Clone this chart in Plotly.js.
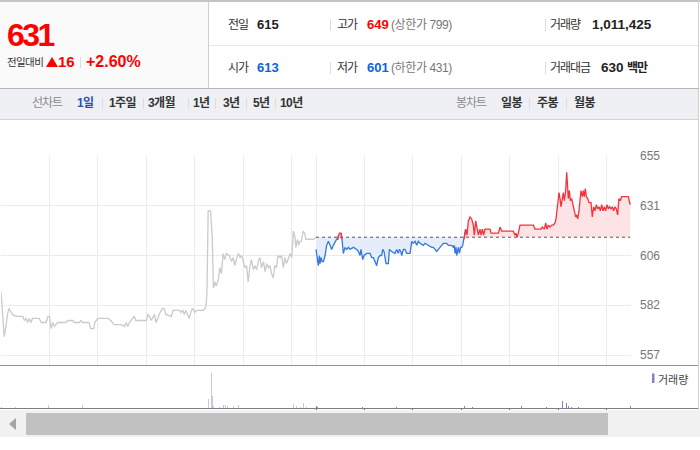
<!DOCTYPE html>
<html><head><meta charset="utf-8">
<script src="https://cdn.plot.ly/plotly-3.0.1.min.js"></script>
<style>
body{margin:0;width:700px;height:450px;overflow:hidden;background:#fff;font-family:"Liberation Sans","Noto Sans CJK KR",Arial,sans-serif;position:relative;}
.a{position:absolute;white-space:nowrap;line-height:20px;height:20px;}
.k{letter-spacing:-1px;}
.sep{position:absolute;width:1px;background:#dcdcdc;}
.b{font-weight:bold;}
.t{font-size:12px;color:#333;font-weight:bold;top:93px;letter-spacing:-0.6px;}
#chart{position:absolute;left:0;top:120px;width:700px;height:290px;}
</style></head><body>
<!-- header -->
<div style="position:absolute;left:0;top:0;width:700px;height:2px;background:#c4c4c4"></div>
<div style="position:absolute;left:0;top:2px;width:208px;height:86px;background:#fafafa"></div>
<div style="position:absolute;left:208px;top:2px;width:1px;height:86px;background:#d0d0d0"></div>
<div style="position:absolute;left:698px;top:0;width:1px;height:410px;background:#d0d0d0"></div>
<div style="position:absolute;left:209px;top:45px;width:489px;height:1px;background:#e8e8e8"></div>
<div style="position:absolute;left:0;top:88px;width:699px;height:1px;background:#b8b8b8"></div>

<div class="a b" style="left:7px;top:19px;height:32px;line-height:32px;font-size:32px;color:#f00;letter-spacing:-2.5px">631</div>
<div class="a" style="left:7px;top:52px;font-size:10.5px;color:#333;letter-spacing:-0.6px">전일대비</div>
<div style="position:absolute;left:46px;top:57px;width:0;height:0;border-left:6px solid transparent;border-right:6px solid transparent;border-bottom:10px solid #f00"></div>
<div class="a b" style="left:58px;top:52px;font-size:15px;color:#f00">16</div>
<div class="sep" style="left:80px;top:57px;height:11px"></div>
<div class="a b" style="left:86px;top:52px;font-size:16px;color:#f00">+2.60%</div>

<div class="a k" style="left:228px;top:15px;font-size:12px;color:#333">전일</div>
<div class="a b" style="left:257px;top:15px;font-size:13px;color:#222">615</div>
<div class="sep" style="left:330px;top:19px;height:12px"></div>
<div class="a k" style="left:337px;top:15px;font-size:12px;color:#333">고가</div>
<div class="a b" style="left:367px;top:15px;font-size:13px;color:#f00">649</div>
<div class="a" style="left:391px;top:15px;font-size:12px;color:#777;letter-spacing:-0.4px">(상한가 799)</div>
<div class="sep" style="left:545px;top:19px;height:12px"></div>
<div class="a k" style="left:550px;top:15px;font-size:12px;color:#333">거래량</div>
<div class="a b" style="left:592px;top:15px;font-size:13.5px;color:#222">1,011,425</div>

<div class="a k" style="left:228px;top:58px;font-size:12px;color:#333">시가</div>
<div class="a b" style="left:257px;top:58px;font-size:13px;color:#0f64d7">613</div>
<div class="sep" style="left:330px;top:62px;height:12px"></div>
<div class="a k" style="left:337px;top:58px;font-size:12px;color:#333">저가</div>
<div class="a b" style="left:367px;top:58px;font-size:13px;color:#0f64d7">601</div>
<div class="a" style="left:391px;top:58px;font-size:12px;color:#777;letter-spacing:-0.4px">(하한가 431)</div>
<div class="sep" style="left:545px;top:62px;height:12px"></div>
<div class="a k" style="left:550px;top:58px;font-size:12px;color:#333">거래대금</div>
<div class="a b" style="left:601px;top:58px;font-size:13.5px;color:#222">630</div>
<div class="a b k" style="left:627px;top:58px;font-size:12px;color:#222">백만</div>

<!-- tab bar -->
<div style="position:absolute;left:0;top:89px;width:698px;height:30px;background:#eff0f4;border-bottom:1px solid #d2d2d2"></div>
<div class="a" style="left:32px;top:93px;font-size:12px;color:#8c8c8c;letter-spacing:-1px">선차트</div>
<div class="a t" style="left:77px;color:#2a51b5">1일</div>
<div class="sep" style="left:102px;top:98px;height:11px"></div>
<div class="a t" style="left:109px">1주일</div>
<div class="sep" style="left:143px;top:98px;height:11px"></div>
<div class="a t" style="left:148px">3개월</div>
<div class="sep" style="left:188px;top:98px;height:11px"></div>
<div class="a t" style="left:193px">1년</div>
<div class="sep" style="left:215px;top:98px;height:11px"></div>
<div class="a t" style="left:223px">3년</div>
<div class="sep" style="left:246px;top:98px;height:11px"></div>
<div class="a t" style="left:253px">5년</div>
<div class="sep" style="left:275px;top:98px;height:11px"></div>
<div class="a t" style="left:280px">10년</div>
<div class="a" style="left:456px;top:93px;font-size:12px;color:#8c8c8c;letter-spacing:-1px">봉차트</div>
<div class="a t" style="left:501px">일봉</div>
<div class="sep" style="left:529px;top:98px;height:11px"></div>
<div class="a t" style="left:537px">주봉</div>
<div class="sep" style="left:566px;top:98px;height:11px"></div>
<div class="a t" style="left:574px">월봉</div>

<div id="chart"></div>

<!-- scrollbar -->
<div style="position:absolute;left:0;top:410px;width:700px;height:27px;background:#f1f1f1"></div>
<div style="position:absolute;left:9px;top:418px;width:0;height:0;border-top:6px solid transparent;border-bottom:6px solid transparent;border-right:7px solid #a4a4a4"></div>
<div style="position:absolute;left:26px;top:413px;width:582px;height:22px;background:#c1c1c1"></div>

<script>
// ---------- data ----------
const prevClose = 615;
const sessionMinutes = 390; // 09:00 - 15:30

// previous trading day (minutes after 09:00)
const prevTime = [0,4,6,8,10,14,19,27,29,31,33,35,37,39,41,47,50,56,58,60,62,64,66,68,70,80,83,89,91,97,99,101,109,111,115,116,120,132,136,140,149,153,155,157,159,163,165,167,180,182,184,186,190,192,194,197,200,202,204,211,213,221,223,225,227,229,231,233,235,237,240,242,250,253,254,255,256.5,259.5,261.5,263,265,266.5,269,271,273,275,277,279,282.5,285.5,287.5,289.5,292,294,296,298,300,302,304,306,308,310,312.5,314.5,316.5,318.5,320.5,322.5,325,327,329,331,333,335,337,339,341,343,345.5,347.5,349.5,351.5,353.5,355.5,358,360,362,364,365,367,368.5,370,372,374,376,377.5,387,390];
const prevPrice = [588,566,571,577,580,577,576,576,574,575,573,575,573,575,575,575,573,573,576,576,570,573,571,572,573,573,574,574,573,573,574,573,573,570,570,573,575,575,574,572,572,571,573,571,573,575,576,574,574,577,576,574,577,573,575,578,580,580,577,576,579,579,578,579,577,579,577,575,578,580,578,579,579,580,582,588,628,628,615,590,593,591,594,600,597,607,604,607,606,603,605,601,605,607,605,606,603,600,601,593,600,604,599,601,599,603,605,600,603,598,602,600,601,597,595,601,600,606,605,606,600,605,602,604,607,605,618,615,610,614,611,613,613,618,617,614,614,615];

// today (minutes after 09:00)
const todayTime = [0,1.7,2.9,4.2,5,6.2,7.5,9.1,11.2,13.2,15.3,17.4,19.4,21.5,23.6,25.6,26.9,27.7,28.9,31,32.2,33.9,35.9,38,40.1,42.1,46.3,50.4,52.4,54.5,55.7,57.8,59.5,62.8,66.9,69,71,73.1,75.1,77.2,79.3,81.3,82.6,84.2,86.7,89.6,90.8,93.7,97.8,99.9,102,103.2,104.9,106.1,108.2,110.2,112.3,116.4,118.5,120.5,122.6,124.7,126.7,128.8,132.9,135,139.1,143.2,145.3,147.4,149.4,151.5,153.5,155.6,157.7,161.8,163.9,168,170,171.3,172.1,173.4,174.2,176.3,177.5,179.1,180.4,181.6,183.3,185.3,187,188.6,190.7,192.7,194.8,196,197.7,198.9,201,203,204.3,206,207.6,209.2,215.4,216.7,225.8,227.8,229.9,231.9,244.3,246.4,247.6,248.9,250.5,252.6,254.6,269.1,271.1,273.2,275.3,278.6,280.2,282.7,284.4,286,287.7,289.7,291.8,293.8,295.9,297.1,299.2,300.9,302.1,303.3,305,306.2,307.5,309.1,310.4,311.6,312.4,313.7,314.9,316.5,318.6,319.8,321.5,322.7,324,325.6,327.3,328.1,329.7,331,332.2,333.5,334.7,336.4,338,340.5,342.1,343.8,345.4,347.1,348.7,350.4,352,353.7,355.3,357,358.6,360.3,361.9,363.6,365.2,366.9,368.5,370.2,371.8,373.5,375.1,376.8,378.5,386.7,389];
const todayPrice = [609,605,601,606,602,605,603,603,606,611,613,611,609,611,613,614,614,616,617,617,614,607,610,609,610,609,610,609,608,606,609,604,606,607,607,605,605,603,601,605,606,606,609,608,602,602,609,608,607,609,607,609,608,606,609,609,607,607,613,612,613,611,613,612,611,612,611,610,610,609,608,609,610,611,612,612,611,611,610,611,607,610,606,610,607,610,610,611,614,619,616,623,625,624,621,616,623,620,616,619,616,619,616,619,619,617,617,620,618,618,618,616,617,615,617,621,621,621,619,619,619,619,620,619,622,619,621,620,621,621,622,624,631,637,634,630,634,637,633,638,647,639,634,638,633,634,630,627,625,626,624,628,633,638,635,638,635,639,635,634,632,632,625,630,628,631,629,630,628,631,628,630,628,631,629,630,629,630,628,630,629,626,634,633,635,635,631];

// volume (thousand shares)
const prevVolTime = [1,18,59,101,234,256.6,258.7,260.4,261.6,262.8,265,267.4,270,272.4,276,278,280.7,283.5,287.6,291,293.8,300.8,303.3,307,310.7,324.4,329.3,339.2,350.4,361.9,364,366.1,369,371,374.3,376.4,378.5,388.7];
const prevVol = [20,10,40,50,15,130,215,530,175,30,25,25,20,25,50,40,25,15,30,40,50,55,15,15,15,10,10,10,15,55,50,30,40,20,70,30,20,50];
const todayVolTime = [0.8,2.4,12.4,33.4,57.8,70.5,79.2,100.2,144.8,182,184.4,190.6,194.3,196.8,206.7,227.8,243.9,246.4,248.8,254.6,271.1,285.6,299.6,302.1,305,307,310.4,312.4,316.5,320.6,324.7,326.8,333,342.9,364,367.7,373.9,389.6];
const todayVol = [30,15,10,10,15,30,10,10,10,15,30,15,15,15,30,10,30,30,25,30,10,10,40,50,100,30,70,30,15,15,15,15,40,15,15,15,15,25];

// axis ticks
const priceTicks = [557, 581.5, 606, 630.5, 655];
const priceTickText = ['557','582','606','631','655'];
const volumeLabel = '거래량';

// ---------- build ----------
const off = sessionMinutes;
const tX = todayTime.map(t => t + off);
const n = todayPrice.length;
const isUp = todayPrice.map(v => v >= prevClose);
const upLine = todayPrice.map((v,i) => (isUp[i] || (i>0 && isUp[i-1]) || (i<n-1 && isUp[i+1])) ? v : null);
const dnLine = todayPrice.map((v,i) => (!isUp[i] || (i>0 && !isUp[i-1]) || (i<n-1 && !isUp[i+1])) ? v : null);
const base = todayPrice.map(() => prevClose);

const hourTicks = [];
for (let m = 0; m < sessionMinutes; m += 60) hourTicks.push(m);
const todayTicks = hourTicks.map(m => m + off);
const gridTicks = hourTicks.concat(todayTicks);

const hid = {width:0};
const traces = [
  {x:tX, y:base, mode:'lines', line:hid, hoverinfo:'skip'},
  {x:tX, y:todayPrice.map(v=>Math.max(v,prevClose)), mode:'lines', line:hid, fill:'tonexty', fillcolor:'#fde3e6', hoverinfo:'skip'},
  {x:tX, y:base, mode:'lines', line:hid, hoverinfo:'skip'},
  {x:tX, y:todayPrice.map(v=>Math.min(v,prevClose)), mode:'lines', line:hid, fill:'tonexty', fillcolor:'#e4edf9', hoverinfo:'skip'},
  {x:[tX[0], tX[n-1]], y:[prevClose, prevClose], mode:'lines', line:{color:'#555', width:1, dash:'dot'}},
  {x:prevTime, y:prevPrice, mode:'lines', line:{color:'#c8cacf', width:1.3}},
  {x:tX, y:dnLine, mode:'lines', line:{color:'#3478dc', width:1.3}, connectgaps:false},
  {x:tX, y:upLine, mode:'lines', line:{color:'#f5323a', width:1.3}, connectgaps:false},
  {x:prevVolTime, y:prevVol, type:'bar', width:1.1, marker:{color:'#c6c9cf', line:{width:0}}, xaxis:'x2', yaxis:'y2'},
  {x:todayVolTime.map(t=>t+off), y:todayVol, type:'bar', width:1.1, marker:{color:'#8b7fc6', line:{width:0}}, xaxis:'x2', yaxis:'y2'}
];

const W = 700, H = 290, TOP = 120;
const px = x => x / W;
const py = y => 1 - (y - TOP) / H;
const pxPerUnit = 199 / (priceTicks[4] - priceTicks[0]);
const yMin = priceTicks[0] - 10 / pxPerUnit;

const layout = {
  width:W, height:H, margin:{l:0,r:0,t:0,b:0},
  paper_bgcolor:'rgba(0,0,0,0)', plot_bgcolor:'rgba(0,0,0,0)',
  showlegend:false, bargap:0,
  xaxis:{domain:[px(1),px(631)], range:[0, 2*sessionMinutes], tickvals:gridTicks, showticklabels:false,
         showgrid:true, gridcolor:'#ebebeb', gridwidth:1, zeroline:false, showline:false, ticks:'', anchor:'y'},
  yaxis:{domain:[py(365),py(156)], range:[yMin, priceTicks[4]], side:'right', tickvals:priceTicks, ticktext:priceTickText,
         showgrid:true, gridcolor:'#ebebeb', gridwidth:1, zeroline:false, showline:false, ticks:'',
         ticklabelstandoff:8, tickfont:{family:'Liberation Sans, Arial, sans-serif', size:12, color:'#777'}, anchor:'x'},
  xaxis2:{domain:[px(1),px(631)], range:[0, 2*sessionMinutes], tickvals:todayTicks, showticklabels:false,
          showgrid:false, zeroline:false, showline:false, ticks:'outside', ticklen:3, tickwidth:1, tickcolor:'#666', anchor:'y2'},
  yaxis2:{domain:[py(408),py(366)], range:[0, 630], showgrid:false, showticklabels:false, zeroline:false, showline:false, anchor:'x2'},
  shapes:[
    {type:'line', xref:'paper', yref:'paper', x0:0, x1:px(698), y0:py(365.5), y1:py(365.5), line:{color:'#8a8e96', width:1}},
    {type:'line', xref:'paper', yref:'paper', x0:0, x1:px(698), y0:py(408.5), y1:py(408.5), line:{color:'#7a7e86', width:1}},
    {type:'rect', xref:'paper', yref:'paper', x0:px(652), x1:px(654.5), y0:py(383), y1:py(373.5), fillcolor:'#8b7fc6', line:{width:0}}
  ],
  annotations:[
    {xref:'paper', yref:'paper', x:px(656), y:py(378.5), xanchor:'left', yanchor:'middle', showarrow:false,
     text:volumeLabel, font:{family:'Noto Sans CJK KR, sans-serif', size:11, color:'#444'}}
  ]
};

Plotly.newPlot('chart', traces, layout, {staticPlot:true, displayModeBar:false});
</script>
</body></html>
